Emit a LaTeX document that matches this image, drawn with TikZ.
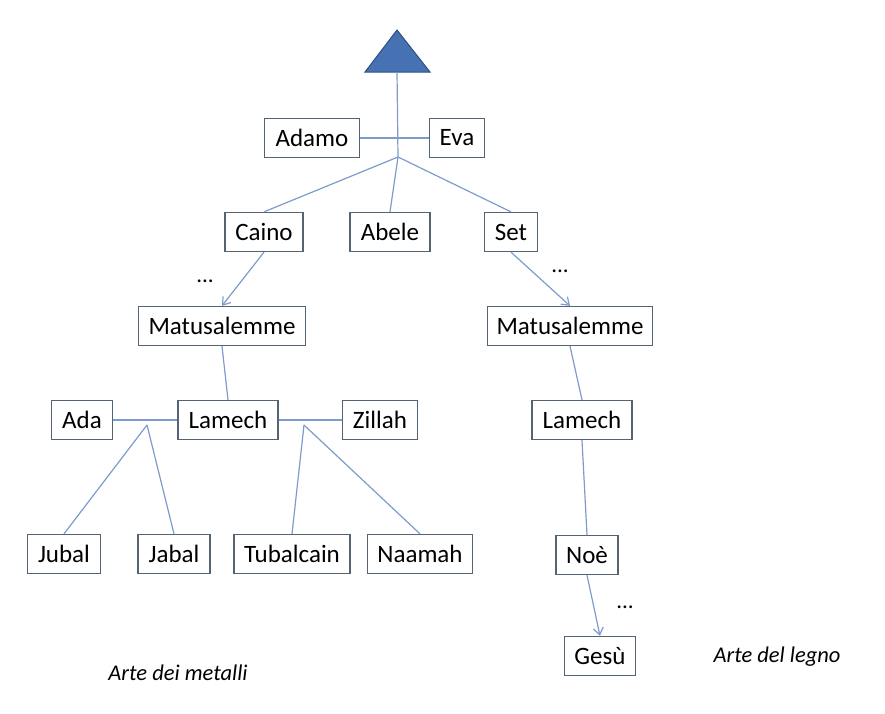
\documentclass[tikz,border=0pt]{standalone}
\usepackage{fontspec}
\setmainfont{Carlito}
\usetikzlibrary{arrows.meta}

\definecolor{boxline}{RGB}{85,100,115}
\definecolor{linkline}{RGB}{125,155,205}
\definecolor{trifill}{RGB}{70,114,180}
\definecolor{triline}{RGB}{45,80,130}

\begin{document}
\begin{tikzpicture}[
    x=1pt, y=-1pt,
    font=\fontsize{25}{29}\selectfont,
    person/.style={draw=boxline, line width=1.3pt, fill=white,
      minimum height=39pt, inner sep=0pt},
    link/.style={draw=linkline, line width=1.2pt},
    arrow/.style={link, -{Straight Barb[length=7pt,width=10pt]}},
    dots/.style={font=\fontsize{23}{27}\selectfont},
    caption/.style={font=\fontsize{22.5}{26}\selectfont\itshape}
  ]
    \useasboundingbox (0,0) rectangle (885,713);
    % top of the tree
    \draw[fill=trifill, draw=triline, line width=1pt]
      (397,30) -- (430,72) -- (365,72) -- cycle;
    \coordinate (top) at (397,72);
    \coordinate (jae) at (398,157);
    \node[person, minimum width=95pt] (adamo) at (312,138) {Adamo};
    \node[person, minimum width=55pt] (eva) at (457,138) {Eva};
    \draw[link] (top) -- (jae);
    \draw[link] (adamo) -- (eva);

    % children of Adamo and Eva
    \node[person, minimum width=78pt] (caino) at (264,232) {Caino};
    \node[person, minimum width=80pt] (abele) at (390,232) {Abele};
    \node[person, minimum width=53pt] (set) at (511,232) {Set};
    \draw[link] (jae) -- (caino.north);
    \draw[link] (jae) -- (abele.north);
    \draw[link] (jae) -- (set.north);

    % line of Caino
    \node[person, minimum width=167pt] (matA) at (222,326) {Matusalemme};
    \node[dots] (dotsA) at (205,281) {...};
    \draw[arrow] (caino.south) -- (matA.north);
    \node[person, minimum width=100pt] (lamA) at (228,420) {Lamech};
    \draw[link] (matA.south) -- (lamA.north);
    \node[person, minimum width=61pt] (ada) at (82,420) {Ada};
    \node[person, minimum width=75pt] (zillah) at (380,420) {Zillah};
    \draw[link] (ada) -- (lamA);
    \draw[link] (lamA) -- (zillah);
    \coordinate (jada) at (147,425);
    \coordinate (jzil) at (304,425);
    \node[person, minimum width=73pt] (jubal) at (64,554) {Jubal};
    \node[person, minimum width=72pt] (jabal) at (174,554) {Jabal};
    \node[person, minimum width=116pt] (tubal) at (292,554) {Tubalcain};
    \node[person, minimum width=105pt] (naamah) at (420,554) {Naamah};
    \draw[link] (jada) -- (jubal.north);
    \draw[link] (jada) -- (jabal.north);
    \draw[link] (jzil) -- (tubal.north);
    \draw[link] (jzil) -- (naamah.north);

    % line of Set
    \node[person, minimum width=165pt] (matB) at (570,326) {Matusalemme};
    \node[dots] (dotsB) at (560,271) {...};
    \draw[arrow] (set.south) -- (matB.north);
    \node[person, minimum width=100pt] (lamB) at (582,420) {Lamech};
    \draw[link] (matB.south) -- (lamB.north);
    \node[person, minimum width=62pt] (noe) at (587,555) {Noè};
    \draw[link] (lamB.south) -- (noe.north);
    \node[person, minimum width=71pt] (gesu) at (600,656) {Gesù};
    \node[dots] (dotsC) at (625,607) {...};
    \draw[arrow] (noe.south) -- (gesu.north);

    % captions
    \node[caption] (metalli) at (178,673) {Arte dei metalli};
    \node[caption] (legno) at (777,657) {Arte del legno};
\end{tikzpicture}
\end{document}
